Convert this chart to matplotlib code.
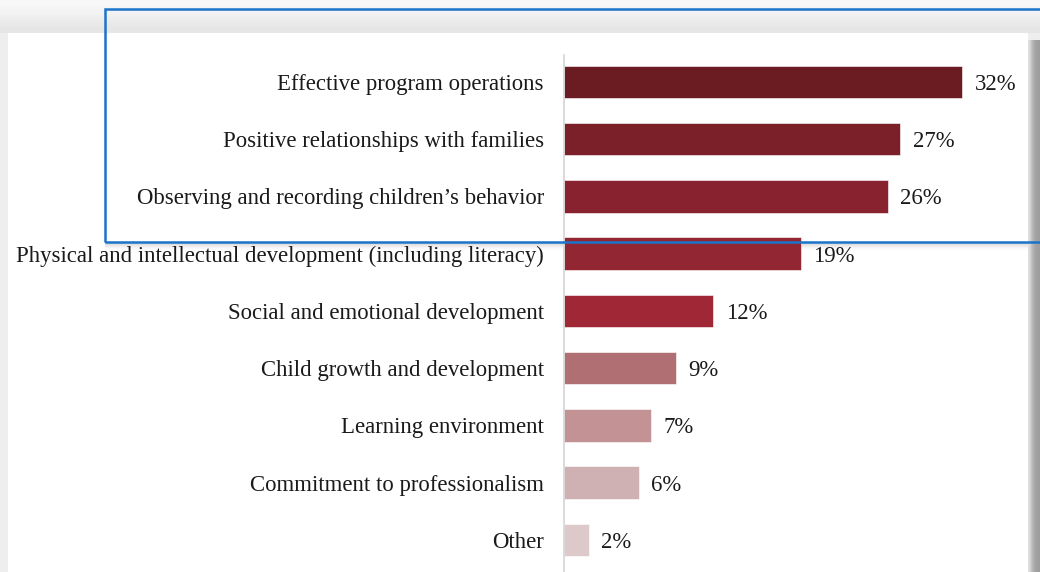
import matplotlib.pyplot as plt
from matplotlib.patches import Rectangle
import numpy as np

categories = [
    "Effective program operations",
    "Positive relationships with families",
    "Observing and recording children\u2019s behavior",
    "Physical and intellectual development (including literacy)",
    "Social and emotional development",
    "Child growth and development",
    "Learning environment",
    "Commitment to professionalism",
    "Other",
]
values = [32, 27, 26, 19, 12, 9, 7, 6, 2]
bar_colors = ["#6b1b22", "#7b1f29", "#89222f", "#922633", "#a02836",
              "#b07073", "#c29294", "#d0b1b3", "#ddc9ca"]

plt.rcParams["font.family"] = ["Liberation Serif", "DejaVu Serif"]

W, H = 1040, 572
fig = plt.figure(figsize=(W / 100, H / 100), dpi=100, facecolor="#eeeeee")


def strip(x0, y0, w, h, shades, vertical=False):
    # small greyscale gradient placed in pixel coordinates (top-left origin)
    a = fig.add_axes([x0 / W, 1 - (y0 + h) / H, w / W, h / H], zorder=0)
    img = np.array(shades)[:, None] if vertical else np.array(shades)[None, :]
    a.imshow(img, cmap="gray", vmin=0, vmax=1, aspect="auto",
             extent=[0, 1, 0, 1], interpolation="bilinear")
    a.axis("off")
    return a


# page background: grey border, darker strip on the right, white panel
strip(1028, 40, 12, H - 40, [0.86, 0.72, 0.64, 0.62])
strip(0, 0, W, 33, [0.97, 0.95, 0.92, 0.9], vertical=True)
fig.patches.append(Rectangle((8 / W, 0), (1028 - 8) / W, 1 - 33 / H,
                             transform=fig.transFigure, facecolor="white",
                             edgecolor="none", zorder=1))
# soft shadow under the highlight frame
shadow = strip(105, 243, 1028 - 105, 9, [0.86, 0.93, 0.98, 1.0], vertical=True)
shadow.set_zorder(1.5)

ax = fig.add_axes([564 / W, 0, (1020 - 564) / W, 1 - 55 / H], zorder=2)
ax.set_facecolor("none")
y = np.arange(len(categories))
ax.barh(y, values, height=0.57, color=bar_colors, edgecolor="white", linewidth=0.4)
ax.set_xlim(0, 456 / 12.45)
ax.set_ylim(8.56, -0.47)
ax.set_yticks(y)
ax.set_yticklabels(categories, fontsize=16.4, color="#1a1a1a")
ax.tick_params(axis="y", length=0, pad=14.5)
ax.set_xticks([])
for s in ["top", "right", "bottom"]:
    ax.spines[s].set_visible(False)
ax.spines["left"].set_color("#d4d4d4")
ax.spines["left"].set_linewidth(1.2)

for yi, v in zip(y, values):
    ax.annotate(f"{v}%", (v, yi), xytext=(9, 0), textcoords="offset points",
                va="center_baseline", ha="left", fontsize=16.4, color="#1a1a1a")

# highlight frame around the top three items
fig.patches.append(Rectangle((105 / W, 1 - 242 / H), (1050 - 105) / W, (242 - 9) / H,
                             transform=fig.transFigure, facecolor="none",
                             edgecolor="#1b74c9", linewidth=1.8, zorder=5))

fig.savefig("out.png", dpi=100, facecolor=fig.get_facecolor())
